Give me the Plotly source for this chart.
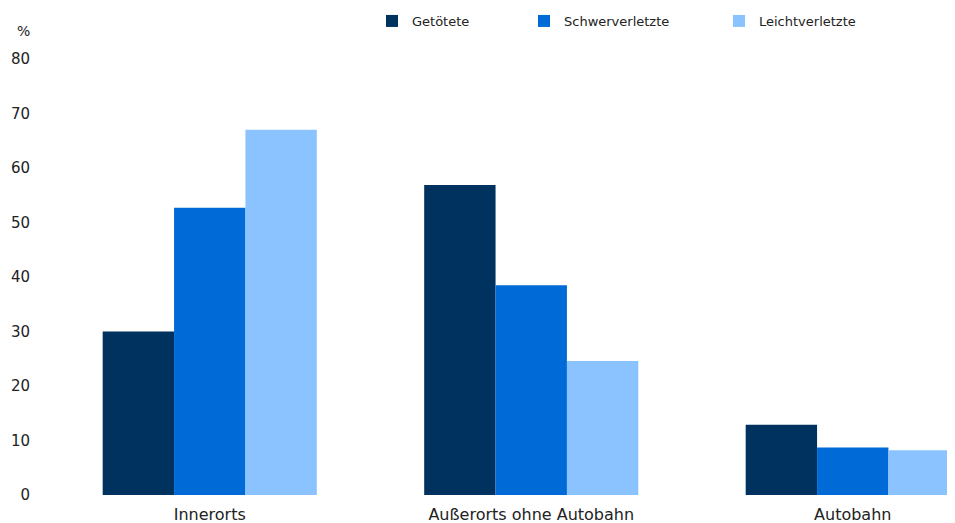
import plotly.graph_objects as go

categories = ["Innerorts", "Außerorts ohne Autobahn", "Autobahn"]
series_names = ["Getötete", "Schwerverletzte", "Leichtverletzte"]
getoetete = [30.0, 56.9, 12.9]
schwer = [52.7, 38.5, 8.7]
leicht = [67.0, 24.6, 8.2]
y_ticks = [0, 10, 20, 30, 40, 50, 60, 70, 80]

colors = ["#00325F", "#006BD7", "#8AC3FF"]
values = [getoetete, schwer, leicht]
legend_ids = ["legend", "legend2", "legend3"]
# page body adds an 8px offset; figure coordinates below are relative to it
legend_left_px = [364, 516, 711]

W, H = 955, 515
ML, MR, MT, MB = 41, 0, 51, 28
plot_w = W - ML - MR
plot_h = H - MT - MB
cat_px = 321.5

fig = go.Figure()
for name, vals, col, lid in zip(series_names, values, colors, legend_ids):
    fig.add_trace(go.Bar(x=categories, y=vals, name=name,
                         marker=dict(color=col, line=dict(width=0)),
                         legend=lid))

font_family = "DejaVu Sans, Verdana, sans-serif"
layout_legends = {}
for lid, px in zip(legend_ids, legend_left_px):
    layout_legends[lid] = dict(orientation="h", yanchor="middle", xanchor="left",
                               x=(px - ML) / plot_w, y=1 + 38 / plot_h,
                               font=dict(family=font_family, size=13, color="#222"),
                               bgcolor="rgba(0,0,0,0)")

fig.update_layout(
    width=W, height=H,
    margin=dict(l=ML, r=MR, t=MT, b=MB, autoexpand=False),
    paper_bgcolor="white", plot_bgcolor="white",
    barmode="group", bargap=0.334, bargroupgap=0,
    showlegend=True,
    font=dict(family=font_family, color="#222"),
    **layout_legends,
)

fig.update_xaxes(range=[-0.5, -0.5 + plot_w / cat_px], showline=False, showgrid=False,
                 zeroline=False, ticks="", tickangle=0,
                 tickfont=dict(size=16, color="#222"), ticklabelstandoff=8)
fig.update_yaxes(range=[0, 80], tickvals=y_ticks, showgrid=False, zeroline=False,
                 showline=False, ticks="", tickfont=dict(size=15, color="#222"),
                 ticklabelstandoff=18)

fig.add_annotation(text="%", xref="paper", yref="paper", x=-17 / plot_w, y=1 + 28 / plot_h,
                   showarrow=False, xanchor="right", yanchor="middle",
                   font=dict(size=14, color="#222", family=font_family))

fig.write_html(
    "out.html",
    post_script="document.documentElement.style.overflow='hidden';"
                "document.body.style.overflow='hidden';",
)
